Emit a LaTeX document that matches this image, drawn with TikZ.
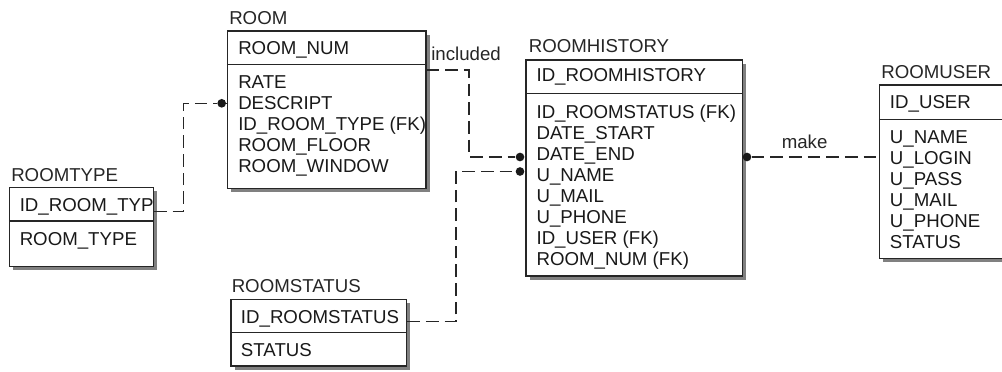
\documentclass[tikz,border=0pt]{standalone}
\usepackage{fontspec}
\setmainfont{Liberation Sans}
\usetikzlibrary{shadows,fit}
\begin{document}
\begin{tikzpicture}[x=0.75pt,y=-0.75pt,
  every node/.style={font=\fontsize{14}{15.75}\selectfont},
  ebox/.style={draw=black!85, line width=0.8pt, fill=white, inner sep=0pt,
    general shadow={fill=black!50, shadow xshift=2.8pt, shadow yshift=-2.8pt}},
  divider/.style={line width=0.8pt, draw=black!85},
  etitle/.style={anchor=base west, inner sep=0pt, text=black!85},
  erow/.style={anchor=base west, inner sep=0pt, text=black!90},
  rel/.style={line width=0.8pt, draw=black!85, dash pattern=on 9.5pt off 4.5pt},
  solidlink/.style={line width=0.8pt, draw=black!85},
  dotc/.style={circle, fill=black!90, inner sep=0pt, minimum size=6.5pt},
  rlabel/.style={anchor=base west, inner sep=0pt, text=black!85}
]
\useasboundingbox (0,0) rectangle (1002,371);

% ---------------- ROOMTYPE ----------------
\node[etitle] (roomtype-t) at (11,181.7) {ROOMTYPE};
\node[ebox, fit={(9.5,187.7) (153.3,266.7)}] (roomtype) {};
\draw[divider] (roomtype.west |- 0,221) -- (roomtype.east |- 0,221);
\begin{scope}
  \clip (roomtype.north west) rectangle (roomtype.south east);
  \node[erow] (roomtype-k) at (19.5,211.7) {ID\_ROOM\_TYPE};
  \node[erow] (roomtype-1) at (19.5,245) {ROOM\_TYPE};
\end{scope}

% ---------------- ROOM ----------------
\node[etitle] (room-t) at (229,24) {ROOM};
\node[ebox, fit={(227.3,31) (426,188.3)}] (room) {};
\draw[divider] (room.west |- 0,64.3) -- (room.east |- 0,64.3);
\begin{scope}
  \clip (room.north west) rectangle (room.south east);
  \node[erow] (room-k) at (238,54) {ROOM\_NUM};
  \foreach \t [count=\i] in {RATE, DESCRIPT, ID\_ROOM\_TYPE (FK), ROOM\_FLOOR, ROOM\_WINDOW}
    \node[erow] (room-\i) at (238, 67.5+21*\i) {\t};
\end{scope}

% ---------------- ROOMHISTORY ----------------
\node[etitle] (rh-t) at (528.5,52.5) {ROOMHISTORY};
\node[ebox, fit={(526,60) (742.7,276)}] (rh) {};
\draw[divider] (rh.west |- 0,93.3) -- (rh.east |- 0,93.3);
\node[erow] (rh-k) at (536.3,81.7) {ID\_ROOMHISTORY};
\foreach \t [count=\i] in {ID\_ROOMSTATUS (FK), DATE\_START, DATE\_END, U\_NAME, U\_MAIL, U\_PHONE, ID\_USER (FK), ROOM\_NUM (FK)}
  \node[erow] (rh-\i) at (536.3, 97+21.1*\i) {\t};

% ---------------- ROOMUSER ----------------
\node[etitle] (ru-t) at (881,78.3) {ROOMUSER};
\node[ebox, fit={(879.3,85) (1040,258.3)}] (ru) {};
\draw[divider] (ru.west |- 0,119.3) -- (ru.east |- 0,119.3);
\node[erow] (ru-k) at (889.7,108.3) {ID\_USER};
\foreach \t [count=\i] in {U\_NAME, U\_LOGIN, U\_PASS, U\_MAIL, U\_PHONE, STATUS}
  \node[erow] (ru-\i) at (889.7, 122.5+21*\i) {\t};

% ---------------- ROOMSTATUS ----------------
\node[etitle] (rs-t) at (231.5,292.3) {ROOMSTATUS};
\node[ebox, fit={(231,299.3) (406.7,366)}] (rs) {};
\draw[divider] (rs.west |- 0,332.3) -- (rs.east |- 0,332.3);
\node[erow] (rs-k) at (240.7,323.3) {ID\_ROOMSTATUS};
\node[erow] (rs-1) at (240.7,356.7) {STATUS};

% ---------------- relationships ----------------
% ROOMTYPE -> ROOM
\node[dotc] (dA) at (221.7,103.3) {};
\draw[rel] (roomtype.east |- 0,211.7) -| (183.3,103.3) -- (dA);
\draw[solidlink] (dA) -- (room.west |- dA);

% ROOM -> ROOMHISTORY (included)
\node[dotc] (dB) at (520,157) {};
\draw[rel] (room.east |- 0,70) -| (469,157) -- (dB);
\draw[solidlink] (dB) -- (rh.west |- dB);
\node[rlabel] (lbl-included) at (431,60.5) {included};

% ROOMSTATUS -> ROOMHISTORY
\node[dotc] (dC) at (520,171.5) {};
\draw[rel] (rs.east |- 0,321.7) -| (456,171.5) -- (dC);
\draw[solidlink] (dC) -- (rh.west |- dC);

% ROOMHISTORY -> ROOMUSER (make)
\node[dotc] (dD) at (747,157) {};
\draw[rel] (dD) -- (ru.west |- dD);
\node[rlabel] (lbl-make) at (781.5,148.3) {make};
\end{tikzpicture}
\end{document}
